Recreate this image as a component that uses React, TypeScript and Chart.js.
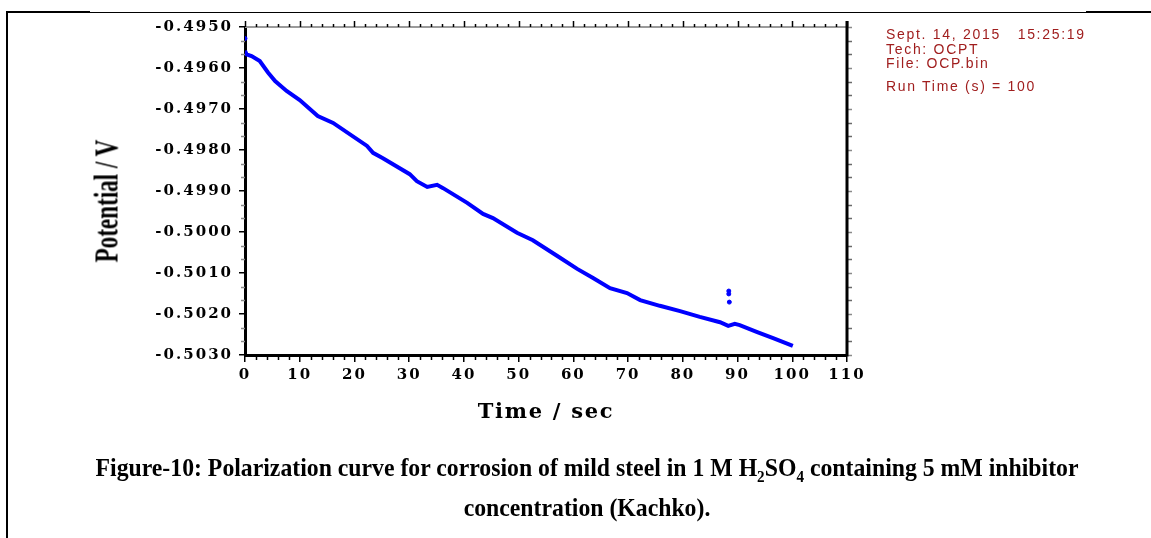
import React, { useEffect, useRef } from "react";
import { Chart, registerables } from "chart.js";

Chart.register(...registerables);

// ---- data ----
const timeSec = [0, 0.3, 1.2, 2.7, 4.2, 5.5, 7.6, 10.0, 13.3, 16.1, 22.3, 23.4, 25.2, 30.1, 31.4, 33.3, 35.1, 36.2, 40.6, 43.5, 45.3, 49.7, 52.6, 57.0, 60.7, 63.6, 66.7, 69.8, 72.2, 75.8, 79.5, 83.1, 86.8, 88.3, 89.5, 90.4, 93.6, 96.5, 100.1];
const potentialV = [-0.49558, -0.49567, -0.49571, -0.49583, -0.49611, -0.49632, -0.49656, -0.49678, -0.49717, -0.49734, -0.4979, -0.49807, -0.4982, -0.49859, -0.49876, -0.4989, -0.49885, -0.49893, -0.49929, -0.49956, -0.49966, -0.50002, -0.5002, -0.50058, -0.5009, -0.50112, -0.50137, -0.50149, -0.50166, -0.5018, -0.50193, -0.50207, -0.5022, -0.50229, -0.50224, -0.50227, -0.50244, -0.50259, -0.50278];
const spikeTime = [0, 88.4, 88.4, 88.5];
const spikePotential = [-0.49528, -0.50144, -0.50151, -0.50171];

const xTicks = [0, 10, 20, 30, 40, 50, 60, 70, 80, 90, 100, 110];
const yTicks = [-0.503, -0.502, -0.501, -0.5, -0.499, -0.498, -0.497, -0.496, -0.495];
const xMinorStep = 2;
const yMinorDiv = 3;

const infoLines = ["Sept. 14, 2015   15:25:19", "Tech: OCPT", "File: OCP.bin"];
const runTimeText = "Run Time (s) = 100";

const axisExtras = {
  id: "axisExtras",
  beforeDraw(chart: any) {
    chart.ctx.letterSpacing = "2px";
  },
  afterDraw(chart: any) {
    const { ctx, chartArea: ca, scales } = chart;
    const xs = scales.x;
    const ys = scales.y;
    ctx.save();
    ctx.letterSpacing = "0px";
    const seg = (x1: number, y1: number, x2: number, y2: number) => {
      ctx.beginPath();
      ctx.moveTo(x1, y1);
      ctx.lineTo(x2, y2);
      ctx.stroke();
    };
    // top axis (gray)
    ctx.strokeStyle = "#9a9a9a";
    ctx.lineWidth = 2;
    seg(ca.left, ca.top, ca.right, ca.top);
    // top ticks
    ctx.strokeStyle = "#000";
    ctx.lineWidth = 1.5;
    for (let v = xTicks[0]; v <= xTicks[xTicks.length - 1] + 1e-9; v += xMinorStep) {
      const px = Math.round(xs.getPixelForValue(v)) + 0.5;
      const major = Math.abs(v % 10) < 1e-9;
      seg(px, ca.top, px, ca.top - (major ? 6 : 3));
      if (!major) seg(px, ca.bottom, px, ca.bottom + 5);
    }
    // y minor ticks (left, gray) and right axis ticks
    const yMin = yTicks[0];
    const yMax = yTicks[yTicks.length - 1];
    const step = (yTicks[1] - yTicks[0]) / yMinorDiv;
    let i = 0;
    for (let v = yMin; v <= yMax + 1e-9; v += step, i++) {
      const py = Math.round(ys.getPixelForValue(v)) + 0.5;
      const major = i % yMinorDiv === 0;
      ctx.strokeStyle = major ? "#000" : "#8a8a8a";
      if (!major) seg(ca.left, py, ca.left - 4, py);
      ctx.strokeStyle = major ? "#8a8a8a" : "#6a6a6a";
      seg(ca.right, py, ca.right + 5, py);
    }
    // right axis (black, thick)
    ctx.strokeStyle = "#000";
    ctx.lineWidth = 3;
    seg(ca.right, ca.top - 6, ca.right, ca.bottom + 1.5);
    ctx.restore();
  },
};

export default function App() {
  const canvasRef = useRef<HTMLCanvasElement | null>(null);

  useEffect(() => {
    const canvas = canvasRef.current;
    if (!canvas) return;
    const tickFont = { family: "'DejaVu Serif', serif", weight: "bold" as const, size: 15 };
    const chart = new Chart(canvas, {
      type: "scatter",
      data: {
        datasets: [
          {
            label: "OCP",
            data: timeSec.map((t, k) => ({ x: t, y: potentialV[k] })),
            showLine: true,
            borderColor: "#0000ff",
            backgroundColor: "#0000ff",
            borderWidth: 4,
            pointRadius: 0,
            tension: 0,
          },
          {
            label: "spikes",
            data: spikeTime.map((t, k) => ({ x: t, y: spikePotential[k] })),
            showLine: false,
            borderColor: "#0000ff",
            backgroundColor: "#0000ff",
            pointRadius: 2,
            pointStyle: "circle",
          },
        ],
      },
      options: {
        animation: false,
        responsive: false,
        maintainAspectRatio: false,
        layout: { padding: { top: 27, right: 304, left: 0, bottom: 0 } },
        plugins: { legend: { display: false }, tooltip: { enabled: false } },
        scales: {
          x: {
            type: "linear",
            min: 0,
            max: 110,
            afterFit: (s: any) => {
              s.height = 183;
            },
            afterBuildTicks: (s: any) => {
              s.ticks = xTicks.map((v) => ({ value: v }));
            },
            ticks: {
              font: tickFont,
              color: "#000",
              padding: 4,
              maxRotation: 0,
              autoSkip: false,
              callback: (v: any) => String(v),
            },
            grid: {
              display: true,
              drawOnChartArea: false,
              drawTicks: true,
              tickLength: 7,
              color: "#000",
              lineWidth: 1.5,
            },
            border: { display: true, color: "#000", width: 3 },
          },
          y: {
            type: "linear",
            min: yTicks[0],
            max: yTicks[yTicks.length - 1],
            afterFit: (s: any) => {
              s.width = 245;
            },
            afterBuildTicks: (s: any) => {
              s.ticks = yTicks.map((v) => ({ value: v }));
            },
            ticks: {
              font: tickFont,
              color: "#000",
              padding: 6,
              autoSkip: false,
              callback: (v: any) => Number(v).toFixed(4),
            },
            grid: {
              display: true,
              drawOnChartArea: false,
              drawTicks: true,
              tickLength: 6,
              color: "#000",
              lineWidth: 1.5,
            },
            border: { display: true, color: "#000", width: 3 },
          },
        },
      },
      plugins: [axisExtras],
    });
    return () => chart.destroy();
  }, []);

  return (
    <div
      style={{
        position: "absolute",
        left: 0,
        top: 0,
        width: 1151,
        height: 538,
        overflow: "hidden",
        background: "#fff",
      }}
    >
      <canvas ref={canvasRef} width={1151} height={538} style={{ position: "absolute", left: 0, top: 0, width: 1151, height: 538 }} />

      {/* page frame */}
      <div style={{ position: "absolute", left: 7, top: 12, width: 1144, height: 1, background: "#000" }} />
      <div style={{ position: "absolute", left: 7, top: 11, width: 83, height: 2, background: "#000" }} />
      <div style={{ position: "absolute", left: 1086, top: 11, width: 65, height: 2, background: "#000" }} />
      <div style={{ position: "absolute", left: 6, top: 11, width: 2, height: 527, background: "#000" }} />

      {/* y axis title */}
      <div
        style={{
          position: "absolute",
          left: 107,
          top: 201,
          transform: "translate(-50%, -50%) rotate(-90deg) scaleX(0.7)",
          fontFamily: "'Liberation Serif', 'Times New Roman', serif",
          fontWeight: "bold",
          fontSize: 33,
          whiteSpace: "nowrap",
          lineHeight: 1,
          color: "#000",
        }}
      >
        Potential / V
      </div>

      {/* x axis title */}
      <div
        style={{
          position: "absolute",
          left: 546,
          top: 410,
          transform: "translate(-50%, -50%)",
          fontFamily: "'DejaVu Serif', serif",
          fontWeight: "bold",
          fontSize: 21,
          letterSpacing: 1.7,
          whiteSpace: "nowrap",
          lineHeight: 1,
          color: "#000",
        }}
      >
        Time / sec
      </div>

      {/* instrument info */}
      <div
        style={{
          position: "absolute",
          left: 886,
          top: 27,
          fontFamily: "'Liberation Sans', Arial, sans-serif",
          fontSize: 14,
          lineHeight: "14.5px",
          letterSpacing: 1.7,
          color: "#a01e1e",
          whiteSpace: "pre",
        }}
      >
        {infoLines.map((l) => (
          <div key={l}>{l}</div>
        ))}
        <div style={{ marginTop: 8 }}>{runTimeText}</div>
      </div>

      {/* caption */}
      <div
        style={{
          position: "absolute",
          left: 587,
          top: 453,
          transform: "translateX(-50%) scaleX(0.95)",
          fontFamily: "'Liberation Serif', 'Times New Roman', serif",
          fontWeight: "bold",
          fontSize: 25,
          textAlign: "center",
          whiteSpace: "nowrap",
          color: "#000",
        }}
      >
        <div style={{ lineHeight: "30px" }}>
          Figure-10: Polarization curve for corrosion of mild steel in 1 M H
          <sub style={{ fontSize: 16, lineHeight: 0 }}>2</sub>SO
          <sub style={{ fontSize: 16, lineHeight: 0 }}>4</sub> containing 5 mM inhibitor
        </div>
        <div style={{ lineHeight: "30px", marginTop: 10 }}>concentration (Kachko).</div>
      </div>
    </div>
  );
}
